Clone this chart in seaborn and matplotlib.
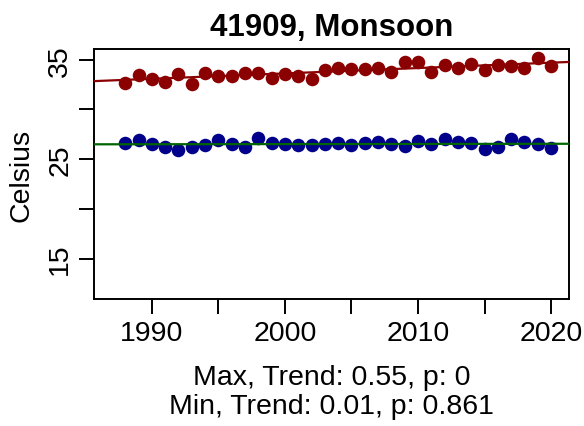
import numpy as np
import pandas as pd
import seaborn as sns
from matplotlib import pyplot as plt

years = list(range(1988, 2021))
tmax = [32.67, 33.47, 33.07, 32.73, 33.53, 32.6, 33.67, 33.4, 33.4, 33.67,
        33.67, 33.2, 33.53, 33.4, 33.07, 34.0, 34.2, 34.07, 34.07, 34.13,
        33.73, 34.8, 34.73, 33.8, 34.47, 34.13, 34.6, 34.0, 34.47, 34.4,
        34.2, 35.13, 34.4]
tmin = [26.6, 26.93, 26.47, 26.2, 25.87, 26.2, 26.4, 26.93, 26.47, 26.2,
        27.13, 26.6, 26.53, 26.4, 26.4, 26.53, 26.6, 26.4, 26.6, 26.67,
        26.47, 26.27, 26.8, 26.47, 27.0, 26.67, 26.6, 26.0, 26.2, 27.0,
        26.67, 26.53, 26.13]

title = "41909, Monsoon"
ylab = "Celsius"
xlab = "Max, Trend: 0.55, p: 0\nMin, Trend: 0.01, p: 0.861"
y_ticks = [15, 20, 25, 30, 35]
y_labels = ["15", "", "25", "", "35"]
x_ticks = [1990, 1995, 2000, 2005, 2010, 2015, 2020]
x_labels = ["1990", "", "2000", "", "2010", "", "2020"]

df = pd.DataFrame({"year": years, "tmax": tmax, "tmin": tmin})

sns.set_style("ticks")
plt.rcParams['font.family'] = ['Liberation Sans', 'DejaVu Sans']
plt.rcParams['text.color'] = 'black'
plt.rcParams['axes.labelcolor'] = 'black'

fig = plt.figure(figsize=(5.84, 4.27), dpi=100)
ax = fig.add_axes([94 / 584, 1 - 300 / 427, 475 / 584, 250 / 427])

sns.scatterplot(data=df, x="year", y="tmax", ax=ax, color="#8B0000",
                s=95, linewidth=0, marker="o")
sns.scatterplot(data=df, x="year", y="tmin", ax=ax, color="#00008B",
                s=95, linewidth=0, marker="o")

# trend lines over the whole panel
for col, c in [("tmax", "#8B0000"), ("tmin", "#006400")]:
    b, a = np.polyfit(df["year"], df[col], 1)
    ax.axline((2000, a + b * 2000), slope=b, color=c, lw=1.6, zorder=5)

ax.set_xlim(1985.65, 2021.35)
ax.set_ylim(10.93, 36.07)
ax.set_xticks(x_ticks)
ax.set_xticklabels(x_labels)
ax.set_yticks(y_ticks)
ax.set_yticklabels(y_labels, rotation=90, va="center")
ax.tick_params(axis="both", length=11, width=1.4, labelsize=20.5, pad=4,
               color="black", labelcolor="black")
for sp in ax.spines.values():
    sp.set_linewidth(1.4)
    sp.set_color("black")

ax.set_title(title, fontsize=22.5, fontweight="bold", pad=10, color="black")
ax.set_ylabel(ylab, fontsize=20.5, labelpad=9)
ax.set_xlabel(xlab, fontsize=20.5, labelpad=13, linespacing=1.15)

fig.savefig("out.png", dpi=100)
